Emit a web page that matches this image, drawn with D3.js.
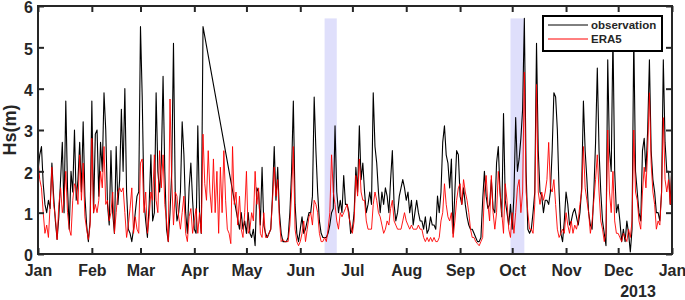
<!DOCTYPE html>
<html>
<head>
<meta charset="utf-8">
<script src="https://cdn.jsdelivr.net/npm/d3@7"></script>
<style>
  body { margin: 0; background: #fff; }
  svg { font-family: "Liberation Sans", Arial, sans-serif; font-weight: bold; }
</style>
</head>
<body>
<svg id="chart" width="685" height="300"></svg>
<script>
// daily significant wave height, 2013-01-01 .. 2014-01-01 (index = day of year)
const startDate = "2013-01-01";
const endDate = "2014-01-01";

// buoy observation; null = no record (the plot just joins across the gap)
const observation = [
  // Jan
  2.0, 2.4, 2.6, 1.7, 1.2, 1.0, 1.3, 1.1, 2.2, 1.4, 0.8, 0.35, 0.9, 1.8, 2.7, 1.0, 3.7, 1.6, 0.6, 2.0, 1.5, 3.0, 1.3, 1.8, 2.7, 1.5, 3.2, 1.4, 0.7, 0.3, 0.8,
  // Feb
  3.7, 1.0, 2.9, 3.0, 1.4, 2.7, 2.0, 3.9, 3.0, 1.2, 0.7, 2.5, 1.0, 0.5, 2.6, 1.2, 1.8, 3.5, 2.0, 4.0, 1.5, 0.6, 0.5, 0.3, 0.6, 1.0, 1.4, 1.5,
  // Mar
  5.5, 3.8, 1.3, 0.8, 0.4, 1.2, 2.4, 0.8, 1.0, 3.9, 2.0, 1.5, 2.2, 4.3, 2.0, 0.6, 0.3, 1.0, 2.0, 5.1, 1.5, 0.8, 1.0, 1.5, 3.2, 2.4, 1.0, 0.5, 1.6, 2.2, 1.3,
  // Apr
  0.6, 0.5, 3.1, 1.0, 0.5, 5.5, null, null, null, null, null, null, null, null, null, null,
  null, null, null, null, null, null, null, null, null, null, 0.6, 1.0, 0.6, 0.8,
  // May
  0.5, 1.0, 0.5, 0.4, 0.6, 0.2, 1.6, 1.5, 0.7, 2.1, 0.7, 0.5, 0.4, 0.5, 0.6, 1.4, 2.6, 1.3, 2.1, 1.0, 0.5, 0.3, 0.3, 0.3, 0.4, 1.0, 2.0, 3.7, 1.2, 0.5, 0.3,
  // Jun
  0.6, 0.9, 0.5, 0.6, 0.8, 1.0, 1.0, 1.4, 3.8, 2.5, 1.5, 0.8, 0.5, 0.4, 0.4, 0.4, 0.5, 0.7, 1.0, 1.1, 3.1, 1.5, 1.0, 1.3, 1.0, 1.9, 1.2, 1.2, 1.0, 0.5,
  // Jul
  0.6, 1.0, 2.1, 1.5, 3.1, 1.8, 2.2, 1.5, 1.0, 1.2, 1.5, 1.2, 3.9, 2.6, 2.2, 1.5, 1.0, 1.5, 1.2, 1.6, 1.4, 1.0, 1.8, 2.5, 1.2, 0.8, 1.0, 1.4, 1.6, 1.8, 1.6,
  // Aug
  1.3, 1.5, 1.0, 1.3, 0.7, 1.0, 1.3, 1.0, 0.8, 0.8, 0.6, 0.9, 0.5, 0.6, 0.9, 0.7, 0.7, 0.6, 1.4, 1.0, 1.5, 2.7, 3.1, 2.4, 2.2, 1.6, 2.3, 0.5, 1.5, 2.5, 2.4,
  // Sep
  1.4, 1.2, 1.6, 1.2, 0.9, 0.7, 0.6, 0.6, 0.5, 0.4, 0.3, 0.3, 0.4, 1.3, 2.0, 1.4, 1.1, 1.2, 1.8, 1.1, 1.0, 2.2, 2.6, 1.5, 0.9, 3.4, 1.3, 1.0, 0.7, 1.2,
  // Oct
  0.6, 1.4, 3.3, 2.0, 2.3, 2.8, 3.5, 5.7, 2.0, 0.6, 0.5, 0.6, 1.0, 1.5, 5.1, 2.5, 1.5, 1.4, 1.0, 1.3, 1.3, 1.2, 1.5, 2.5, 3.9, 3.8, 3.0, 1.5, 0.5, 0.3, 0.8,
  // Nov
  1.5, 1.2, 0.7, 0.8, 1.0, 1.1, 0.9, 0.7, 1.0, 1.6, 3.7, 2.5, 1.8, 1.0, 0.7, 0.6, 1.5, 2.7, 4.5, 2.5, 1.5, 0.8, 0.5, 0.2, 4.7, 2.5, 2.0, 5.3, 2.0, 1.0,
  // Dec (+ 1 Jan 2014)
  1.2, 0.8, 0.3, 0.6, 0.3, 0.8, 0.5, 0.05, 0.6, 5.3, 2.0, 1.5, 1.0, 0.8, 2.5, 2.8, 2.0, 3.0, 4.7, 2.5, 1.8, 1.5, 1.0, 1.0, 0.8, 1.5, 4.7, 2.7, 2.0, 2.0, 1.2, 2.3
];

const era5 = [
  // Jan
  2.3, 1.8, 1.6, 1.0, 0.5, 0.7, 0.4, 1.2, 2.1, 1.2, 0.9, 0.35, 1.2, 1.6, 1.0, 1.3, 2.0, 1.0, 0.6, 0.45, 1.3, 1.7, 1.6, 1.2, 2.4, 1.3, 2.2, 0.9, 0.6, 0.35, 0.7,
  // Feb
  2.8, 1.0, 1.2, 1.0, 1.3, 2.0, 1.6, 2.6, 1.2, 1.3, 0.8, 1.0, 1.5, 0.5, 1.0, 1.5, 1.6, 1.5, 1.6, 1.0, 0.4, 0.7, 1.1, 1.6, 0.5, 0.9, 0.6, 0.5,
  // Mar
  2.2, 2.3, 1.0, 1.5, 0.5, 0.9, 1.5, 1.3, 2.4, 1.3, 1.0, 2.5, 1.6, 2.4, 1.2, 0.8, 0.3, 3.75, 1.8, 0.7, 1.5, 1.4, 0.9, 0.6, 1.0, 1.4, 0.5, 0.3, 0.9, 1.1, 0.5,
  // Apr
  0.8, 1.1, 0.5, 1.0, 0.5, 2.9, 1.7, 1.3, 2.5, 1.5, 1.0, 2.3, 1.0, 2.0, 0.5, 2.1, 1.0, 2.5, 1.3, 0.6, 0.5, 0.25, 2.6, 1.2, 1.5, 0.7, 1.4, 0.6, 0.4, 1.0,
  // May
  2.0, 0.5, 0.6, 1.0, 0.8, 2.0, 1.2, 1.6, 0.5, 0.4, 1.0, 0.4, 0.4, 0.5, 0.6, 1.3, 2.1, 1.4, 1.8, 0.8, 0.3, 0.35, 0.3, 0.3, 0.3, 0.7, 1.5, 2.6, 0.6, 0.3, 0.2,
  // Jun
  0.3, 0.5, 0.8, 0.3, 0.6, 0.9, 1.0, 0.7, 1.3, 1.2, 1.0, 0.5, 0.3, 0.3, 0.4, 0.3, 0.6, 1.0, 2.4, 1.5, 1.2, 0.8, 0.6, 1.0, 0.9, 1.0, 1.1, 1.2, 0.9, 0.7,
  // Jul
  0.5, 0.8, 1.9, 1.4, 2.3, 1.5, 1.3, 1.3, 0.8, 0.6, 0.6, 0.6, 1.2, 1.5, 1.3, 1.0, 0.9, 0.7, 0.5, 0.6, 0.8, 0.7, 1.1, 1.3, 0.8, 0.7, 0.6, 0.6, 0.6, 0.8, 1.0,
  // Aug
  0.8, 0.7, 0.6, 0.7, 0.6, 0.6, 0.6, 0.7, 0.6, 0.6, 0.4, 0.3, 0.4, 0.3, 0.4, 0.3, 0.4, 0.3, 0.3, 0.4, 0.8, 1.0, 1.7, 1.2, 0.9, 0.8, 1.0, 0.4, 0.8, 1.3, 1.6,
  // Sep
  1.7, 1.2, 1.8, 1.5, 1.3, 1.0, 0.6, 0.4, 0.4, 0.3, 0.25, 0.2, 0.3, 0.4, 1.5, 1.9, 1.2, 0.8, 1.9, 1.0, 0.6, 1.0, 2.0, 1.5, 1.0, 0.5, 1.7, 1.3, 0.6, 0.4,
  // Oct
  1.0, 0.5, 1.0, 1.6, 1.8, 1.0, 1.5, 4.4, 1.5, 1.0, 0.6, 0.6, 0.5, 1.2, 4.1, 1.5, 1.2, 1.5, 1.3, 1.5, 1.8, 2.7, 1.6, 1.5, 1.8, 1.2, 0.6, 0.4, 0.5, 0.6, 0.5,
  // Nov
  1.0, 0.7, 0.5, 0.8, 0.5, 0.7, 0.6, 0.8, 1.2, 1.5, 2.6, 1.6, 1.3, 1.0, 0.5, 0.8, 1.3, 1.8, 2.4, 1.5, 0.8, 0.6, 0.3, 0.5, 3.0, 1.5, 1.0, 2.0, 0.8, 0.5,
  // Dec (+ 1 Jan 2014)
  0.5, 0.4, 0.3, 0.5, 0.4, 0.3, 0.6, 0.4, 0.8, 3.0, 1.5, 1.3, 0.8, 0.6, 1.5, 2.1, 1.6, 2.5, 3.9, 2.2, 1.5, 1.2, 0.6, 0.8, 0.7, 1.5, 3.3, 1.8, 1.5, 1.8, 1.2, 2.2
];

// shaded periods
const bandStarts = ["2013-06-15", "2013-09-30"];
const bandEnds = ["2013-06-22", "2013-10-08"];
const bandTop = 5.7;

const yTicks = [0, 1, 2, 3, 4, 5, 6];
const seriesNames = ["observation", "ERA5"];
const seriesColors = ["#000000", "#ff0000"];

const margin = { top: 6, right: 13, bottom: 46, left: 38 };
const width = 685 - margin.left - margin.right;
const height = 300 - margin.top - margin.bottom;
const ink = "#262626";

const parse = d3.utcParse("%Y-%m-%d");
const t0 = parse(startDate);
const t1 = parse(endDate);

const toPoints = (values) =>
  values
    .map((v, i) => ({ date: d3.utcDay.offset(t0, i), value: v }))
    .filter((d) => d.value !== null);

const xScale = d3.scaleUtc().domain([t0, t1]).range([0, width]);
const yScale = d3.scaleLinear().domain([0, 6]).range([height, 0]);

const svg = d3
  .select("#chart")
  .append("g")
  .attr("transform", `translate(${margin.left},${margin.top})`);

// shaded bands
svg
  .selectAll("rect.band")
  .data(bandStarts.map((s, i) => [parse(s), parse(bandEnds[i])]))
  .join("rect")
  .attr("class", "band")
  .attr("x", (d) => xScale(d[0]))
  .attr("width", (d) => xScale(d[1]) - xScale(d[0]))
  .attr("y", yScale(bandTop))
  .attr("height", yScale(0) - yScale(bandTop))
  .attr("fill", "#dfdffb");

const line = d3
  .line()
  .x((d) => xScale(d.date))
  .y((d) => yScale(d.value));

[observation, era5].forEach((values, i) => {
  svg
    .append("path")
    .datum(toPoints(values))
    .attr("fill", "none")
    .attr("stroke", seriesColors[i])
    .attr("stroke-width", i === 0 ? 1.1 : 0.9)
    .attr("stroke-linejoin", "round")
    .attr("d", line);
});

// axes, ticks pointing inward on all four sides
const months = d3.utcMonth.range(t0, d3.utcDay.offset(t1, 1));
const tickLen = -6;

const styleAxis = (g) => {
  g.select(".domain").remove();
  g.selectAll(".tick line").attr("stroke", ink).attr("stroke-width", 2);
  g.selectAll(".tick text").attr("fill", ink).attr("font-size", 16).attr("font-weight", "bold");
};

svg
  .append("g")
  .attr("class", "axis axis-x")
  .attr("transform", `translate(0,${height})`)
  .call(d3.axisBottom(xScale).tickValues(months).tickFormat(d3.utcFormat("%b")).tickSizeInner(tickLen).tickSizeOuter(0).tickPadding(11))
  .call(styleAxis);

svg
  .append("g")
  .attr("class", "axis axis-x-top")
  .call(d3.axisTop(xScale).tickValues(months).tickFormat("").tickSizeInner(tickLen).tickSizeOuter(0))
  .call(styleAxis);

svg
  .append("g")
  .attr("class", "axis axis-y")
  .call(d3.axisLeft(yScale).tickValues(yTicks).tickFormat(d3.format("d")).tickSizeInner(tickLen).tickSizeOuter(0).tickPadding(5))
  .call(styleAxis)
  .call((g) => g.selectAll(".tick text").attr("dy", "0.42em"));

svg
  .append("g")
  .attr("class", "axis axis-y-right")
  .attr("transform", `translate(${width},0)`)
  .call(d3.axisRight(yScale).tickValues(yTicks).tickFormat("").tickSizeInner(tickLen).tickSizeOuter(0))
  .call(styleAxis);

// frame
svg
  .append("rect")
  .attr("width", width)
  .attr("height", height)
  .attr("fill", "none")
  .attr("stroke", ink)
  .attr("stroke-width", 2);

svg
  .append("text")
  .attr("x", width - 34)
  .attr("y", height + 43)
  .attr("text-anchor", "middle")
  .attr("font-size", 16)
  .attr("fill", ink)
  .text("2013");

svg
  .append("text")
  .attr("text-anchor", "middle")
  .attr("transform", `translate(${-22},${height / 2}) rotate(-90)`)
  .attr("font-size", 18)
  .attr("fill", ink)
  .text("Hs(m)");

// legend (white box sits on top of the lines)
const legend = svg.append("g").attr("transform", `translate(${width - 129},10)`);

legend
  .append("rect")
  .attr("width", 119)
  .attr("height", 35)
  .attr("fill", "#fff")
  .attr("stroke", "#000")
  .attr("stroke-width", 2);

seriesNames.forEach((name, i) => {
  const yy = 9 + i * 14;
  legend
    .append("line")
    .attr("x1", 5)
    .attr("x2", 45)
    .attr("y1", yy)
    .attr("y2", yy)
    .attr("stroke", seriesColors[i])
    .attr("stroke-width", 1);
  legend
    .append("text")
    .attr("x", 48)
    .attr("y", yy)
    .attr("dy", "0.35em")
    .attr("font-size", 11.5)
    .attr("fill", ink)
    .text(name);
});
</script>
</body>
</html>
